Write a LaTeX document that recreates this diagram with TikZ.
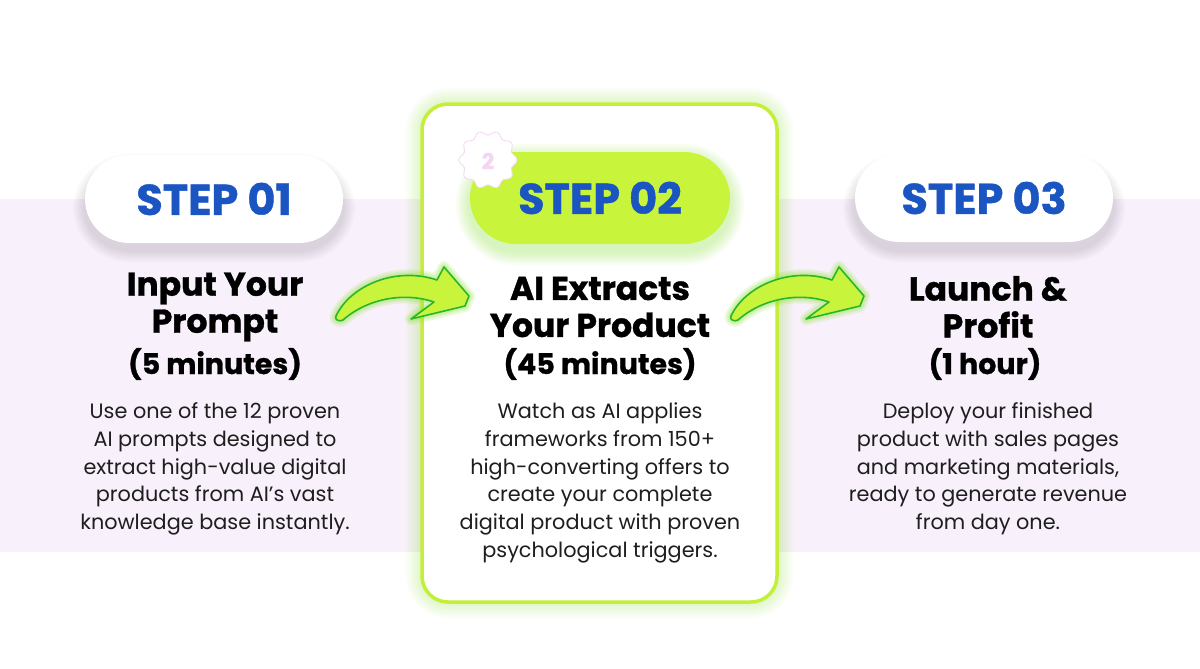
\documentclass[tikz,border=0pt]{standalone}
\usepackage{fontspec}
\setmainfont{Poppins}[BoldFeatures={FakeBold=1}]
\usetikzlibrary{positioning}
\definecolor{stepblue}{HTML}{1A55C2}
\definecolor{bandlilac}{HTML}{F8F0FA}
\definecolor{limefill}{HTML}{C8F53C}
\definecolor{limeedge}{HTML}{C4EE38}
\definecolor{arrowgreen}{HTML}{2BB52B}
\definecolor{glowgreen}{HTML}{8FE63A}
\definecolor{badgepink}{HTML}{F2D6F2}
\definecolor{bodygrey}{HTML}{1E1E1E}

% curved arrow outline, pixel coordinates
\newcommand{\bentarrow}{(336,316) .. controls (350,286) and (395,266) .. (437,280)
  -- (444,267) -- (469,296) -- (465,306) -- (411,319) -- (434,302)
  .. controls (405,292) and (368,298) .. (343,320) .. controls (340,322) and (334,320) .. cycle}

\begin{document}
\begin{tikzpicture}[x=1pt,y=-1pt,
  pill/.style={rounded corners=44pt, minimum width=258pt, minimum height=88pt, inner sep=0pt,
    font=\fontsize{43}{43}\selectfont\bfseries, text=stepblue},
  title/.style={align=center, font=\fontsize{33}{37}\selectfont\bfseries, text=black},
  time/.style={font=\fontsize{28.5}{30}\selectfont\bfseries, text=black},
  body/.style={align=center, font=\fontsize{20.8}{27.7}\selectfont, text=bodygrey}
]
\useasboundingbox (0,0) rectangle (1200,669);
\fill[white] (0,0) rectangle (1200,669);
\fill[bandlilac] (0,199) rectangle (1200,552);

% glow round the middle card
\foreach \g in {2,4,...,16}
  \fill[glowgreen, opacity=0.035, rounded corners=26+\g] (422-\g,104-\g) rectangle (777+\g,602+\g);
\draw[limeedge, line width=3.5pt, fill=white, rounded corners=26pt] (422,104) rectangle (777,602);

% soft shadows under the pills
\foreach \x in {214,984}
  \foreach \g in {2,4,...,12}
    \fill[black, opacity=0.02, rounded corners=44+\g] (\x-129-\g,159-\g+7) rectangle (\x+129+\g,243+\g+7);
\foreach \g in {2,4,...,14}
  \fill[glowgreen, opacity=0.05, rounded corners=46+\g] (470-\g,152-\g+6) rectangle (730+\g,245+\g+6);

\node[pill, fill=white] (pillA) at (214,199) {STEP 01};
\node[pill, fill=limefill, minimum width=260pt, minimum height=92pt, rounded corners=46pt] (pillB) at (600,198) {STEP 02};
\node[pill, fill=white] (pillC) at (984,198) {STEP 03};

% badge
\draw[shift={(488,160)}, fill=white, draw=badgepink, line width=0.8pt]
  plot[smooth cycle, domain=0:354, samples=60, variable=\t] ({\t}:{27+2.2*cos(10*\t)});
\node[text=badgepink, font=\fontsize{22}{22}\selectfont\bfseries] (badge) at (488,161) {2};

% arrows
\foreach \dx in {0,395}{
  \begin{scope}[shift={(\dx,0)}]
    \foreach \w in {12,8,5}
      \draw[glowgreen, opacity=0.18, line width=\w pt, line join=round] \bentarrow;
    \draw[arrowgreen, fill=limefill, line width=1.6pt, line join=round] \bentarrow;
  \end{scope}
}

\node[title] (titleA) at (215,307) {Input Your\\Prompt};
\node[time] (timeA) at (215,364) {(5 minutes)};
\node[body] (bodyA) at (215,469) {Use one of the 12 proven\\AI prompts designed to\\extract high-value digital\\products from AI’s vast\\knowledge base instantly.};

\node[title] (titleB) at (600,307) {AI Extracts\\Your Product};
\node[time] (timeB) at (600,364) {(45 minutes)};
\node[body] (bodyB) at (600,483) {Watch as AI applies\\frameworks from 150+\\high-converting offers to\\create your complete\\digital product with proven\\psychological triggers.};

\node[title] (titleC) at (988,307) {Launch \&\\Profit};
\node[time] (timeC) at (985,364) {(1 hour)};
\node[body] (bodyC) at (988,469) {Deploy your finished\\product with sales pages\\and marketing materials,\\ready to generate revenue\\from day one.};
\end{tikzpicture}
\end{document}
